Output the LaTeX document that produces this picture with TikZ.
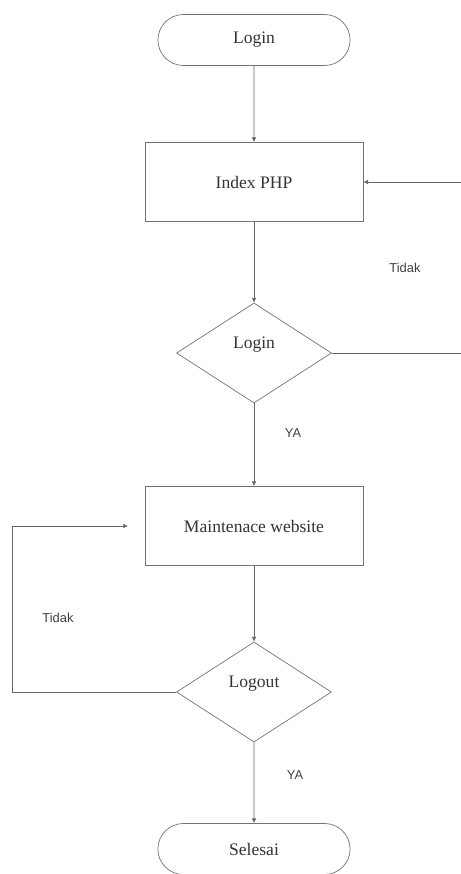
\documentclass[tikz,border=0pt]{standalone}
\usepackage{fontspec}
\setmainfont{Liberation Serif}
\newfontfamily\labelfont{Liberation Sans}
\usetikzlibrary{arrows.meta, positioning, shapes.geometric, shapes.misc, calc}

\begin{document}
\begin{tikzpicture}[x=0.03cm, y=-0.03cm,
  terminal/.style={rounded rectangle, draw=black!55, line width=0.6pt, minimum width=6cm, minimum height=1.53cm, font=\fontsize{15}{18}\selectfont, text=black!80},
  process/.style={rectangle, draw=black!55, line width=0.6pt, minimum width=6.54cm, minimum height=2.37cm, font=\fontsize{15}{18}\selectfont, text=black!80},
  decision/.style={diamond, draw=black!55, line width=0.6pt, inner sep=0pt, aspect=1.55, minimum width=4.65cm, minimum height=3cm, text depth=0.6cm, font=\fontsize{15}{18}\selectfont, text=black!80},
  flow/.style={draw=black!60, line width=0.6pt, -{Latex[length=4pt,width=4pt]}},
  lbl/.style={font=\labelfont\fontsize{11}{13}\selectfont, text=black!75}]
  \useasboundingbox (0,0) rectangle (461,874);
  % nodes
  \node[terminal] (start) at (254,40) {Login};
  \node[process] (index) at (254,182) {Index PHP};
  \node[decision] (cek) at (254,353) {Login};
  \node[process] (maint) at (254,526) {Maintenace website};
  \node[decision] (logout) at (254,692) {Logout};
  \node[terminal] (selesai) at (254,849) {Selesai};
  % main line
  \draw[flow] (start) -- (index);
  \draw[flow] (index) -- (cek);
  \draw[flow] (cek) -- (maint);
  \draw[flow] (maint) -- (logout);
  \draw[flow] (logout) -- (selesai);
  % loops back
  \draw[flow] (cek.east) -- (475,353) |- (index.east);
  \draw[flow, shorten >=0.5cm] (logout.west) -- (12,692) |- (maint.west);
  % labels
  \node[lbl] (tidakA) at (405,268) {Tidak};
  \node[lbl] (yaA) at (293,433) {YA};
  \node[lbl] (tidakB) at (58,618) {Tidak};
  \node[lbl] (yaB) at (295,775) {YA};
\end{tikzpicture}
\end{document}
